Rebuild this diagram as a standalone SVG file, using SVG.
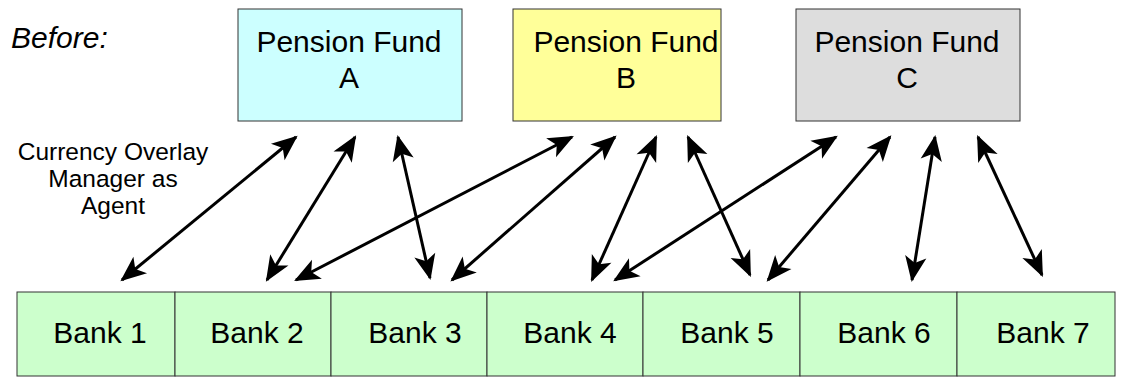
<svg xmlns="http://www.w3.org/2000/svg" width="1127" height="381" viewBox="0 0 1127 381">
<style>
text{font-family:"Liberation Sans",Arial,sans-serif;fill:#000}
.big{font-size:30px;text-anchor:middle}
.lbl{font-size:24.5px;text-anchor:middle}
.box{stroke:#333;stroke-width:1}
.conn line{stroke:#000;stroke-width:3;marker-start:url(#ah);marker-end:url(#ah)}
</style>
<defs>
<marker id="ah" markerUnits="userSpaceOnUse" markerWidth="30" markerHeight="30" viewBox="-2 -12 28 24" refX="22" refY="0" orient="auto-start-reverse">
<path d="M24,0 L0,-10 L6,0 L0,10 Z" fill="#000"/>
</marker>
</defs>
<rect width="1127" height="381" fill="#fff"/>
<text x="11" y="48" style="font-size:30px;font-style:italic">Before:</text>
<g id="label-agent">
<text class="lbl" x="113" y="160">Currency Overlay</text>
<text class="lbl" x="113" y="187">Manager as</text>
<text class="lbl" x="113" y="214">Agent</text>
</g>
<g id="fundA"><rect class="box" x="238" y="9" width="224" height="112" fill="#CCFFFF"/><text class="big" x="349" y="52">Pension Fund</text><text class="big" x="349" y="88">A</text></g>
<g id="fundB"><rect class="box" x="513" y="9" width="208" height="112" fill="#FFFF99"/><text class="big" x="626" y="52">Pension Fund</text><text class="big" x="626" y="88">B</text></g>
<g id="fundC"><rect class="box" x="796" y="9" width="224" height="112" fill="#DDDDDD"/><text class="big" x="907" y="52">Pension Fund</text><text class="big" x="907" y="88">C</text></g>
<g id="bank1"><rect class="box" x="17" y="292" width="158" height="84" fill="#CCFFCC"/><text class="big" x="100" y="343">Bank 1</text></g>
<g id="bank2"><rect class="box" x="175" y="292" width="156" height="84" fill="#CCFFCC"/><text class="big" x="257" y="343">Bank 2</text></g>
<g id="bank3"><rect class="box" x="331" y="292" width="156" height="84" fill="#CCFFCC"/><text class="big" x="415" y="343">Bank 3</text></g>
<g id="bank4"><rect class="box" x="487" y="292" width="156" height="84" fill="#CCFFCC"/><text class="big" x="570" y="343">Bank 4</text></g>
<g id="bank5"><rect class="box" x="643" y="292" width="157" height="84" fill="#CCFFCC"/><text class="big" x="727" y="343">Bank 5</text></g>
<g id="bank6"><rect class="box" x="800" y="292" width="157" height="84" fill="#CCFFCC"/><text class="big" x="884" y="343">Bank 6</text></g>
<g id="bank7"><rect class="box" x="957" y="292" width="158" height="84" fill="#CCFFCC"/><text class="big" x="1043" y="343">Bank 7</text></g>
<g id="connectors" class="conn">
<line x1="296" y1="137" x2="122" y2="280"/>
<line x1="355" y1="137" x2="267" y2="280"/>
<line x1="398" y1="137" x2="430" y2="278"/>
<line x1="572" y1="137" x2="296" y2="280"/>
<line x1="615" y1="137" x2="452" y2="280"/>
<line x1="656" y1="137" x2="592" y2="280"/>
<line x1="688" y1="137" x2="750" y2="275"/>
<line x1="836" y1="137" x2="615" y2="280"/>
<line x1="890" y1="137" x2="768" y2="280"/>
<line x1="935" y1="137" x2="912" y2="280"/>
<line x1="978" y1="137" x2="1042" y2="275"/>
</g>
</svg>
